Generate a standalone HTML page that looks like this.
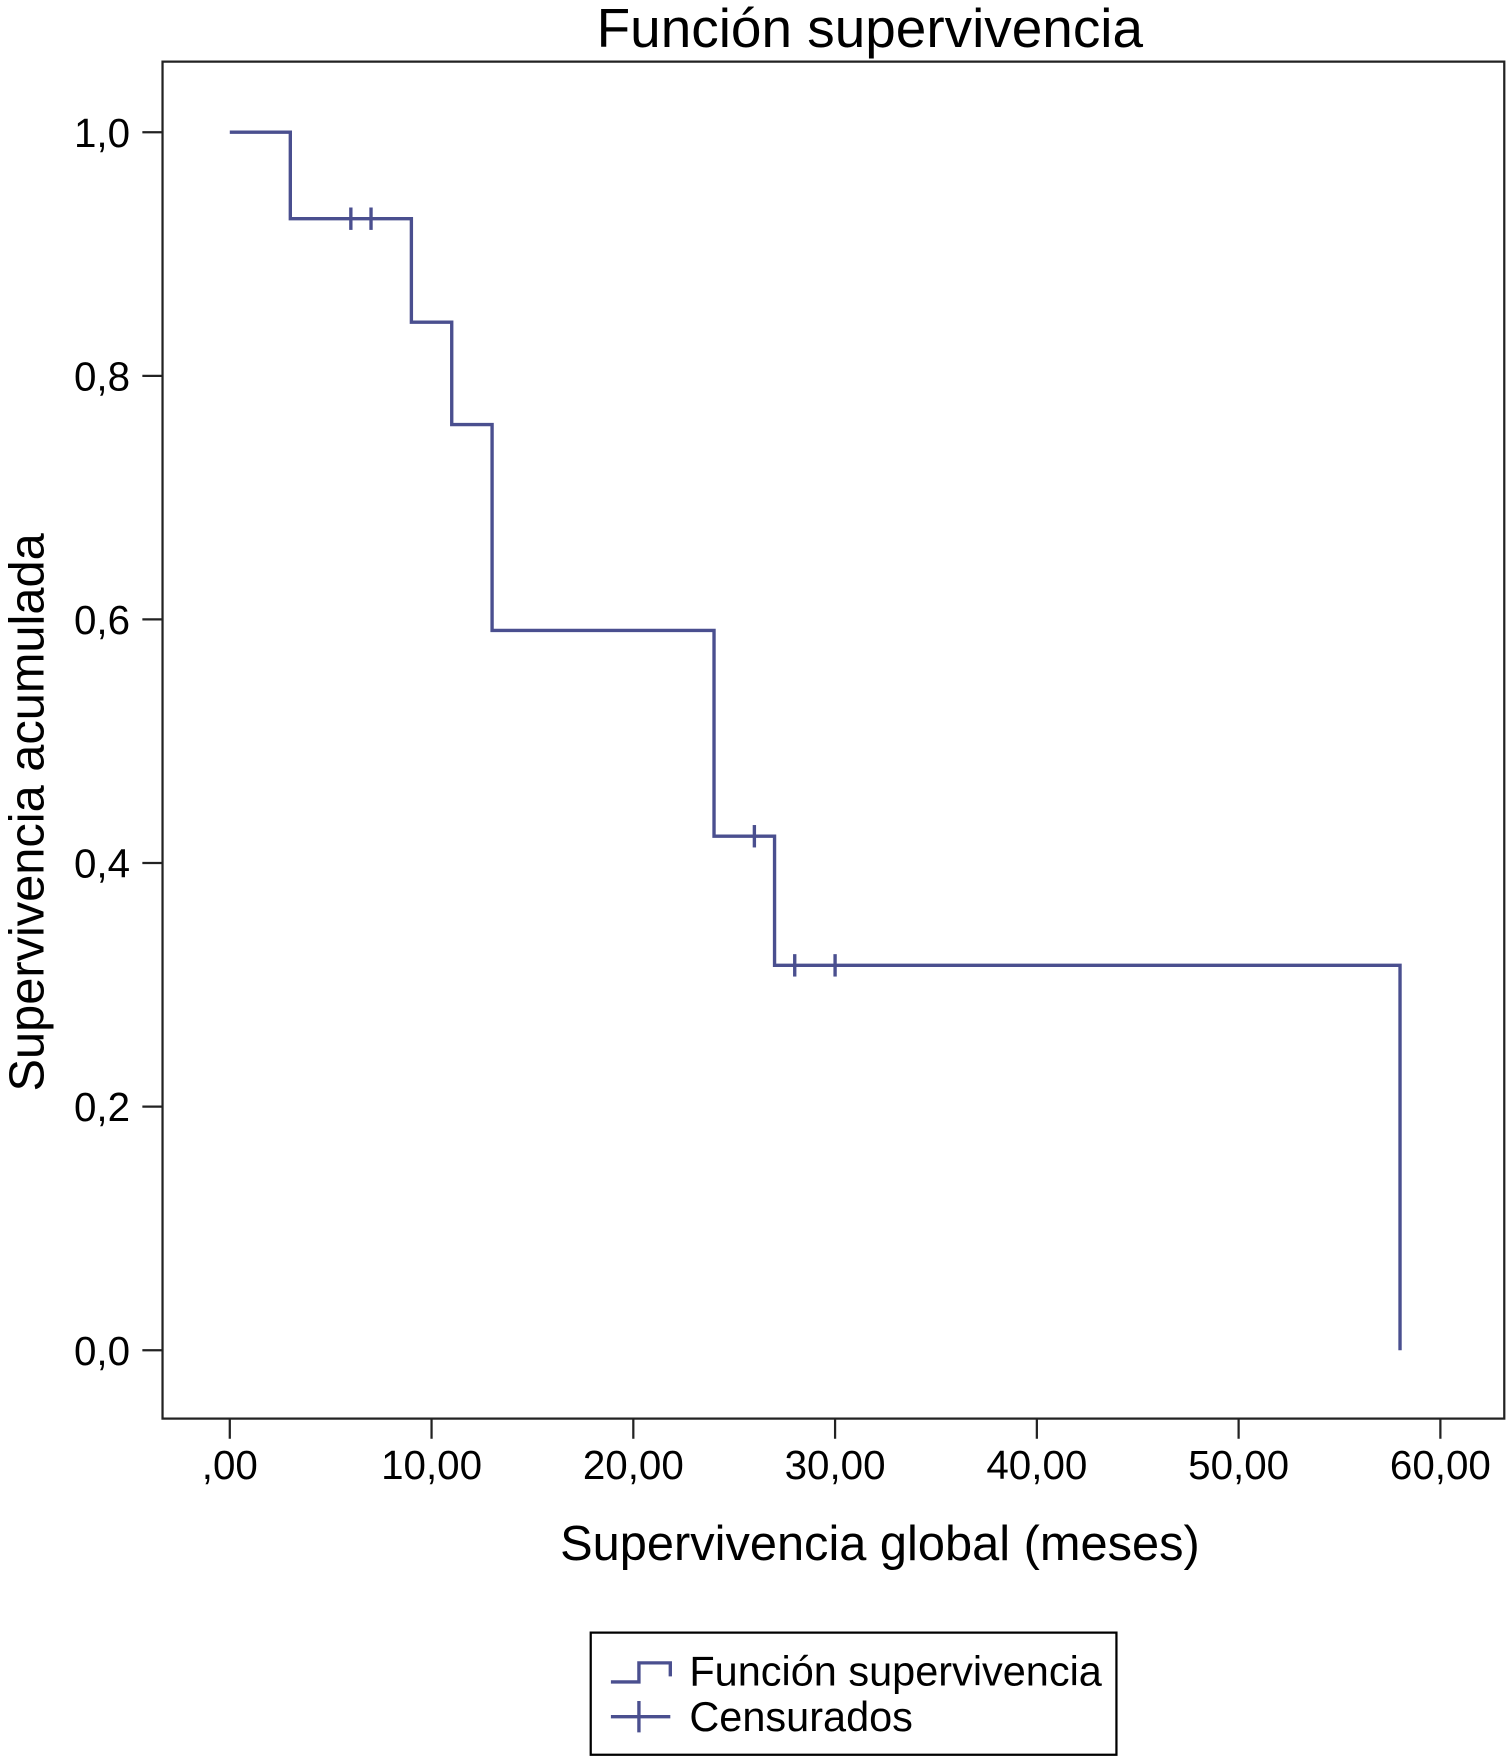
<!DOCTYPE html>
<html><head><meta charset="utf-8"><style>
html,body{margin:0;padding:0;background:#fff;}
svg{display:block;font-family:"Liberation Sans",sans-serif;}
</style></head><body>
<svg id="chart" width="1511" height="1757" viewBox="0 0 1348 1568" preserveAspectRatio="none" xmlns="http://www.w3.org/2000/svg">
<text x="776" y="42" font-size="49" text-anchor="middle" fill="#000">Función supervivencia</text>
<rect x="145" y="55" width="1197" height="1211" fill="none" stroke="#222" stroke-width="2"/>
<g id="yaxis"></g>
<g id="xaxis"></g>
<text transform="translate(39,725) rotate(-90)" font-size="43.5" text-anchor="middle" fill="#000">Supervivencia acumulada</text>
<text x="785" y="1392" font-size="43.5" text-anchor="middle" fill="#000">Supervivencia global (meses)</text>
<g id="series"></g>
<g>
<rect x="527" y="1457" width="469" height="109" fill="#fff" stroke="#000" stroke-width="2"/>
<path d="M545 1501 H570 V1484 H598 V1496" fill="none" stroke="#4a4f8f" stroke-width="3"/>
<text x="615" y="1504" font-size="37" fill="#000">Función supervivencia</text>
<path d="M545 1532 H598 M570 1518 V1546" fill="none" stroke="#4a4f8f" stroke-width="3"/>
<text x="615" y="1545" font-size="37" fill="#000">Censurados</text>
</g>
</svg>
<script>
const yTicks=[0,0.2,0.4,0.6,0.8,1.0];
const yTickLabels=["0,0","0,2","0,4","0,6","0,8","1,0"];
const xTicks=[0,10,20,30,40,50,60];
const xTickLabels=[",00","10,00","20,00","30,00","40,00","50,00","60,00"];
const eventTimes=[0,3,9,11,13,24,27,58];
const survival=[1.0,0.929,0.844,0.76,0.591,0.422,0.316,0];
const censorTimes=[6,7,26,28,30];
const censorSurv=[0.929,0.929,0.422,0.316,0.316];
const NS="http://www.w3.org/2000/svg";
const xs=v=>205+v*18;
const ys=v=>1205-v*1087;
function mk(t,a,p){const e=document.createElementNS(NS,t);for(const k in a)e.setAttribute(k,a[k]);p.appendChild(e);return e;}
const ya=document.getElementById('yaxis'),xa=document.getElementById('xaxis'),se=document.getElementById('series');
yTicks.forEach((v,i)=>{
 const l=mk('line',{x1:127,x2:145,y1:ys(v),y2:ys(v),stroke:'#222','stroke-width':2},ya);
 
 
 const t=mk('text',{x:116,y:ys(v)+13,'font-size':36,'text-anchor':'end',fill:'#000'},ya);
 t.textContent=yTickLabels[i];
 
 
});
xTicks.forEach((v,i)=>{
 const l=mk('line',{x1:xs(v),x2:xs(v),y1:1266,y2:1284,stroke:'#222','stroke-width':2},xa);
 
 
 const t=mk('text',{x:xs(v),y:1320,'font-size':36,'text-anchor':'middle',fill:'#000'},xa);
 t.textContent=xTickLabels[i];
 
 
});
let d='M'+xs(eventTimes[0])+' '+ys(survival[0]);
for(let i=1;i<eventTimes.length;i++){d+=' H'+xs(eventTimes[i])+' V'+ys(survival[i]);}
const p=mk('path',{d:d,fill:'none',stroke:'#4a4f8f','stroke-width':3},se);


censorTimes.forEach((c,i)=>{
 const l=mk('line',{x1:xs(c),x2:xs(c),y1:ys(censorSurv[i])-10,y2:ys(censorSurv[i])+10,stroke:'#4a4f8f','stroke-width':3},se);
 
 
});
</script>
</body></html>
